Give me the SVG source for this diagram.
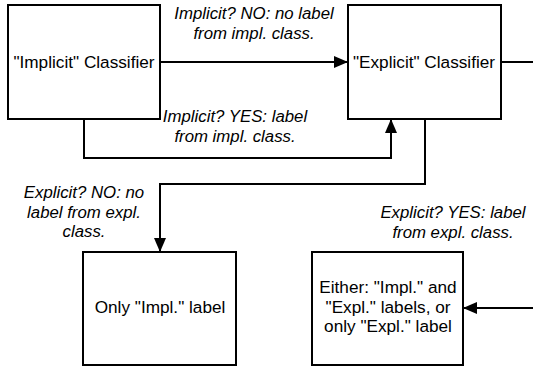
<svg xmlns="http://www.w3.org/2000/svg" width="533" height="367" viewBox="0 0 533 367">
<style>
.box{fill:#fff;stroke:#000;stroke-width:2}
.t{font-family:"Liberation Sans",Arial,sans-serif;font-size:17.2px;fill:#000;text-anchor:middle}
.l{font-family:"Liberation Sans",Arial,sans-serif;font-size:16.8px;font-style:italic;fill:#000;text-anchor:middle}
.c{fill:none;stroke:#000;stroke-width:2}
</style>
<defs>
<marker id="ah" markerWidth="14" markerHeight="12" refX="13" refY="6" orient="auto" markerUnits="userSpaceOnUse">
<path d="M0,0 L14,6 L0,12 Z" fill="#000"/>
</marker>
</defs>
<g id="connectors">
<path class="c" d="M160,62 H347" marker-end="url(#ah)"/>
<path class="c" d="M501,62 H533"/>
<path class="c" d="M84,119 V158 H391 V120" marker-end="url(#ah)"/>
<path class="c" d="M425,119 V184 H160 V251" marker-end="url(#ah)"/>
<path class="c" d="M533,308 H464" marker-end="url(#ah)"/>
</g>
<g id="implicit">
<rect class="box" x="8" y="5" width="152" height="114"/>
<text class="t" x="84" y="68">"Implicit" Classifier</text>
</g>
<g id="explicit">
<rect class="box" x="348" y="5" width="153" height="114"/>
<text class="t" x="424" y="68">"Explicit" Classifier</text>
</g>
<g id="only-impl">
<rect class="box" x="83" y="252" width="153" height="113"/>
<text class="t" x="160" y="313">Only "Impl." label</text>
</g>
<g id="either">
<rect class="box" x="312" y="252" width="151" height="113"/>
<text class="t" x="388" y="293">Either: "Impl." and</text>
<text class="t" x="388" y="313">"Expl." labels, or</text>
<text class="t" x="388" y="332">only "Expl." label</text>
</g>
<g id="labels">
<text class="l" x="254" y="19">Implicit? NO: no label</text>
<text class="l" x="254" y="39">from impl. class.</text>
<text class="l" x="235" y="122">Implicit? YES: label</text>
<text class="l" x="235" y="142">from impl. class.</text>
<text class="l" x="84" y="198">Explicit? NO: no</text>
<text class="l" x="84" y="218">label from expl.</text>
<text class="l" x="84" y="237">class.</text>
<text class="l" x="453" y="218">Explicit? YES: label</text>
<text class="l" x="453" y="238">from expl. class.</text>
</g>
</svg>
